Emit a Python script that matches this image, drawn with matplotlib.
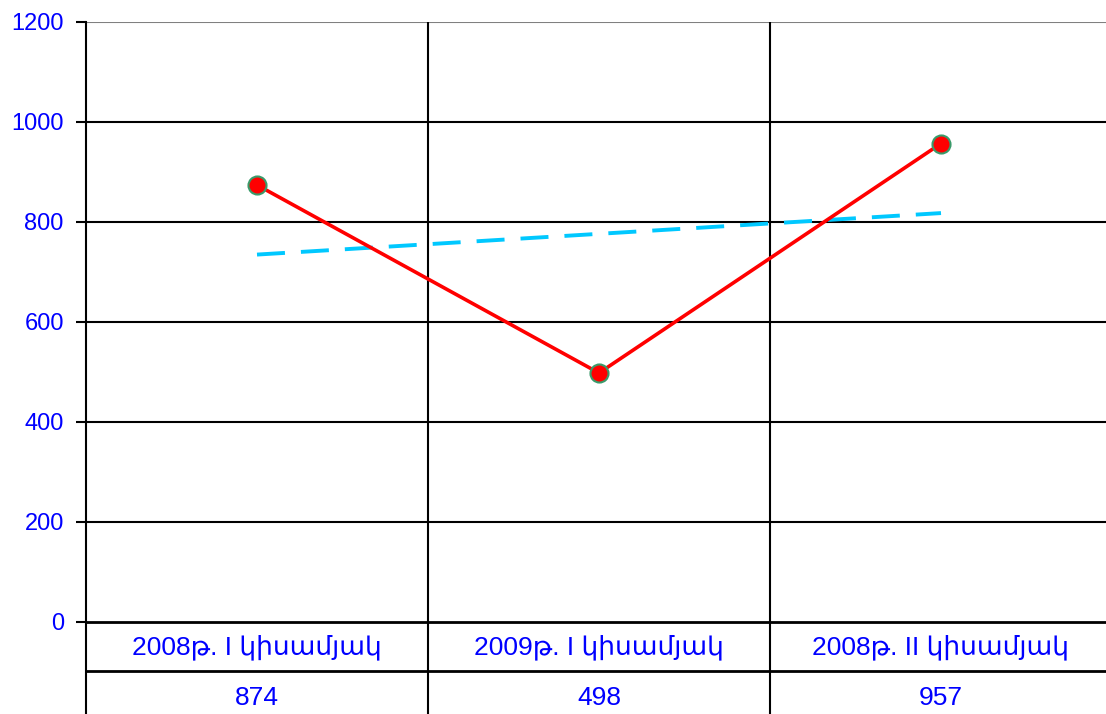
import matplotlib
matplotlib.use("Agg")
import matplotlib.pyplot as plt
import matplotlib.transforms as mtransforms
import numpy as np

# data
kategorii = ["2008թ. I կիսամյակ", "2009թ. I կիսամյակ", "2008թ. II կիսամյակ"]
vrijednosti = [874, 498, 957]
y_ticks = [0, 200, 400, 600, 800, 1000, 1200]

plt.rcParams['font.family'] = ['Liberation Sans', 'DejaVu Sans']
plava = '#0000ff'

fig = plt.figure(figsize=(11.06, 7.14), dpi=100)
ax = fig.add_axes([86/1106, 92/714, 1026/1106, 600/714])

x = np.arange(len(vrijednosti))

# linearni trend (kao u Excelu)
k, l = np.polyfit(x, vrijednosti, 1)
ax.plot(x, k*x + l, color='#00c8ff', lw=2.8, dashes=(28*0.72/2.8, 16*0.72/2.8), zorder=3)

ax.plot(x, vrijednosti, color='#ff0000', lw=2.6, marker='o', ms=13,
        markerfacecolor='#ff0000', markeredgecolor='#3a9a6a', markeredgewidth=1.5, zorder=4)

ax.set_xlim(-0.5, 2.5)
ax.set_ylim(0, 1200)
ax.set_yticks(y_ticks)
ax.set_yticklabels([str(v) for v in y_ticks], color=plava, fontsize=17)
ax.tick_params(axis='y', length=7, width=1.5, color='black', pad=9)
ax.set_xticks([])

for v in y_ticks[1:-1]:
    ax.axhline(v, color='black', lw=1.5, zorder=1)
ax.axhline(1200, color='#808080', lw=1.5, zorder=1)
for g in [0.5, 1.5]:
    ax.axvline(g, color='black', lw=1.5, zorder=1)

for s in ['top', 'right']:
    ax.spines[s].set_visible(False)
ax.spines['left'].set_linewidth(1.5)
ax.spines['bottom'].set_linewidth(2)

# tablica podataka ispod grafa
trans = mtransforms.blended_transform_factory(ax.transData, ax.transAxes)
red1 = -49/600
for g in [-0.5, 0.5, 1.5, 2.5]:
    ax.plot([g, g], [0, -0.2], transform=trans, color='black', lw=1.5, clip_on=False)
ax.plot([-0.5, 2.5], [red1, red1], transform=trans, color='black', lw=2, clip_on=False)
for i in range(len(kategorii)):
    ax.text(i, -25/600, kategorii[i], transform=trans, ha='center', va='center',
            color=plava, fontsize=19)
    ax.text(i, -76/600, str(vrijednosti[i]), transform=trans, ha='center',
            va='center', color=plava, fontsize=19)

fig.savefig("out.png", dpi=100)
